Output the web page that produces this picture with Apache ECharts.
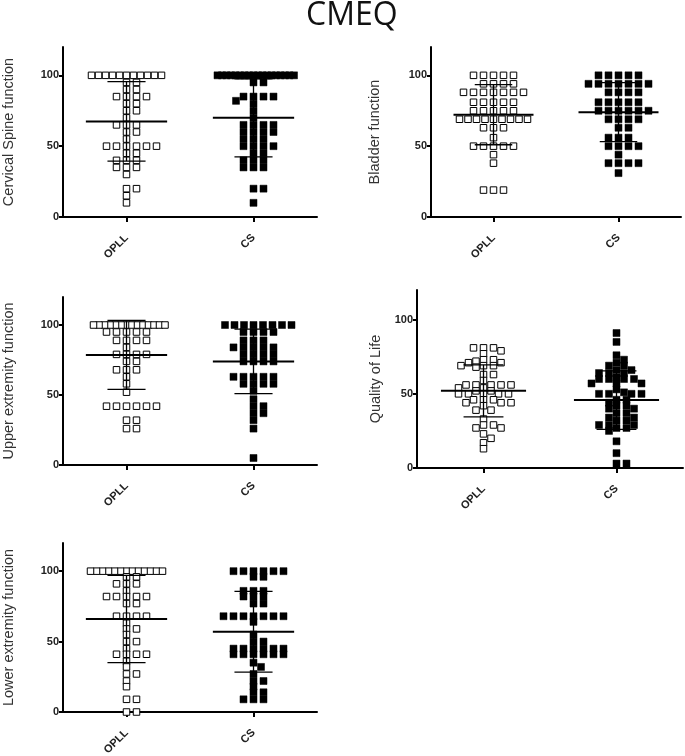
<!DOCTYPE html>
<html>
<head>
<meta charset="utf-8">
<script src="https://cdn.jsdelivr.net/npm/echarts@6/dist/echarts.min.js"></script>
<style>html,body{margin:0;padding:0;background:#fff}#c{width:685px;height:756px}</style>
</head>
<body>
<div id="c"></div>
<script>
const chartTitle = 'CMEQ';
const categories = ['OPLL', 'CS'];
const yTicks = [0, 50, 100];
const panelNames = ['Cervical Spine function', 'Bladder function', 'Upper extremity function', 'Quality of Life', 'Lower extremity function'];

const cervicalOPLL = [100,100,100,100,100,100,100,100,100,100,100,95,95,90,90,85,85,85,85,80,80,75,75,70,65,65,65,60,60,55,50,50,50,50,50,50,45,45,40,40,40,35,35,35,30,20,20,15,10];
const cervicalCS = [100,100,100,100,100,100,100,100,100,100,100,100,100,100,100,100,100,100,95,95,85,85,85,85,82,80,75,70,65,65,65,65,60,60,60,60,55,55,55,50,50,50,50,45,45,40,40,40,35,35,35,20,20,10];
const bladderOPLL = [100,100,100,100,100,94,94,94,94,88,88,88,88,88,88,88,81,81,81,81,81,75,75,75,75,75,69,69,69,69,69,69,69,69,69,63,63,63,56,50,50,50,50,50,44,38,19,19,19];
const bladderCS = [100,100,100,100,100,94,94,94,94,94,94,94,88,88,88,88,81,81,81,81,81,75,75,75,75,75,75,69,69,69,69,63,63,56,56,56,50,50,50,50,44,38,38,38,38,31];
const upperOPLL = [100,100,100,100,100,100,100,100,100,100,100,100,100,100,95,95,95,95,95,89,89,89,89,84,79,79,79,79,74,74,68,68,68,63,58,52,42,42,42,42,42,42,32,32,26,26];
const upperCS = [100,100,100,100,100,100,100,100,95,95,95,95,89,89,89,84,84,84,84,84,79,79,79,79,74,74,74,74,63,63,63,63,63,58,58,58,58,53,47,42,42,37,37,32,26,5];
const qolOPLL = [81,81,81,79,77,73,73,72,71,71,69,69,69,68,63,63,59,56,56,56,56,56,54,54,52,52,50,50,50,50,50,46,46,46,44,44,44,42,39,39,33,29,29,27,27,23,20,17,13];
const qolCS = [91,85,76,73,71,69,69,66,66,64,64,64,61,60,60,60,60,57,57,57,53,51,50,50,50,50,46,46,44,42,42,40,40,37,37,34,34,32,32,29,29,29,27,27,25,18,10,3,3];
const lowerOPLL = [100,100,100,100,100,100,100,100,100,100,100,100,100,96,96,91,91,91,86,82,82,82,82,82,77,77,68,68,68,68,63,59,59,55,50,50,45,41,41,41,41,36,32,27,27,22,18,9,9,0,0];
const lowerCS = [100,100,100,100,100,100,96,96,86,86,86,82,82,82,77,77,68,68,68,68,68,68,68,64,55,50,50,45,45,45,45,45,45,41,41,41,41,41,41,35,32,27,22,22,18,14,14,9,9,9];

// mean and SD
const meansOPLL = [67.5, 72.2, 78.6, 52.0, 66.0];
const sdsOPLL   = [28.0, 21.2, 24.6, 17.5, 31.0];
const meansCS   = [70.0, 74.0, 74.0, 45.8, 57.0];
const sdsCS     = [27.5, 20.8, 23.0, 19.7, 28.7];

const groupsOPLL = [cervicalOPLL, bladderOPLL, upperOPLL, qolOPLL, lowerOPLL];
const groupsCS = [cervicalCS, bladderCS, upperCS, qolCS, lowerCS];

const grids = [
  {left: 63, top: 47, width: 254, height: 170, nameGap: 47},
  {left: 431, top: 47, width: 250, height: 170, nameGap: 49},
  {left: 63, top: 297, width: 254, height: 168, nameGap: 47},
  {left: 417, top: 290, width: 266, height: 178, nameGap: 34},
  {left: 63, top: 543, width: 254, height: 169, nameGap: 47}
];
const YMAX = 120;
const XMAX = 2;

// deterministic beeswarm layout in pixel space
function swarm(values, center, pxX, pxY) {
  const d = 10, dOther = 7.5, cy = 5, rowW = 74;
  const counts = {};
  values.forEach(v => counts[v] = (counts[v] || 0) + 1);
  const sorted = values.slice().sort((a, b) => b - a);
  const placed = [];
  sorted.forEach(v => {
    const sRow = Math.min(d, rowW / counts[v]);
    let off = 0;
    for (let k = 0; k < 400; k++) {
      const cand = [k * 0.5, -k * 0.5];
      let found = null;
      for (const o of cand) {
        let ok = true;
        for (const q of placed) {
          const dx = Math.abs(o - q.off);
          if (q.v === v) { if (dx < sRow - 0.01) { ok = false; break; } }
          else if (Math.abs(v - q.v) * pxY < cy && dx < dOther) { ok = false; break; }
        }
        if (ok) { found = o; break; }
      }
      if (found !== null) { off = found; break; }
    }
    placed.push({v, off});
  });
  return placed.map(p => [center + p.off / pxX, p.v]);
}

const option = {
  animation: false,
  backgroundColor: '#fff',
  title: {text: chartTitle, left: 301, top: 0, padding: [0, 5, 5, 5],
    textStyle: {fontFamily: 'Open Sans', fontSize: 32, fontWeight: 'normal', color: '#111'}},
  grid: [], xAxis: [], yAxis: [], series: []
};

const labelFont = 'Liberation Sans';
grids.forEach((g, i) => {
  option.grid.push({left: g.left, top: g.top, width: g.width, height: g.height, containLabel: false, outerBoundsMode: 'none'});
  option.xAxis.push({
    type: 'value', gridIndex: i, min: 0, max: XMAX,
    axisLine: {show: true, onZero: false, lineStyle: {color: '#000', width: 2}},
    axisTick: {show: true, customValues: [0.5, 1.5], length: 5, lineStyle: {color: '#000', width: 2}},
    axisLabel: {show: true, customValues: [0.5, 1.5], rotate: 45, margin: 19,
      formatter: v => categories[Math.round(v - 0.5)],
      fontFamily: labelFont, fontWeight: 'bold', fontSize: 11, color: '#222'},
    splitLine: {show: false}
  });
  option.yAxis.push({
    type: 'value', gridIndex: i, min: 0, max: YMAX,
    name: panelNames[i], nameLocation: 'middle', nameGap: g.nameGap, nameRotate: 90,
    nameTextStyle: {fontFamily: labelFont, fontSize: 14.5, color: '#333'},
    axisLine: {show: true, lineStyle: {color: '#000', width: 2}},
    axisTick: {show: true, customValues: yTicks, length: 4, lineStyle: {color: '#000', width: 2}},
    axisLabel: {show: true, customValues: yTicks, margin: 4,
      fontFamily: labelFont, fontWeight: 'bold', fontSize: 11, color: '#222'},
    splitLine: {show: false}
  });
  const pxX = g.width / XMAX, pxY = g.height / YMAX;
  option.series.push({
    type: 'scatter', xAxisIndex: i, yAxisIndex: i, symbol: 'rect', symbolSize: 6.5,
    itemStyle: {color: '#fff', borderColor: '#000', borderWidth: 1, opacity: 1},
    data: swarm(groupsOPLL[i], 0.5, pxX, pxY), z: 2
  });
  option.series.push({
    type: 'scatter', xAxisIndex: i, yAxisIndex: i, symbol: 'rect', symbolSize: 7,
    itemStyle: {color: '#000', borderColor: '#000', borderWidth: 0.5, opacity: 1},
    data: swarm(groupsCS[i], 1.5, pxX, pxY), z: 2
  });
  option.series.push({
    type: 'custom', xAxisIndex: i, yAxisIndex: i, z: 5,
    data: [[0.5, meansOPLL[i], sdsOPLL[i]], [1.5, meansCS[i], sdsCS[i]]],
    renderItem: (params, api) => {
      const x = api.value(0), m = api.value(1), s = api.value(2);
      const c = api.coord([x, m]);
      const t = api.coord([x, m + s]);
      const b = api.coord([x, m - s]);
      const hw = api.size([0.32, 0])[0];
      const cw = api.size([0.15, 0])[0];
      const st = {stroke: '#000', lineWidth: 1.3};
      return {type: 'group', children: [
        {type: 'line', shape: {x1: c[0] - hw, y1: c[1], x2: c[0] + hw, y2: c[1]}, style: {stroke: '#000', lineWidth: 2}},
        {type: 'line', shape: {x1: t[0], y1: t[1], x2: b[0], y2: b[1]}, style: st},
        {type: 'line', shape: {x1: t[0] - cw, y1: t[1], x2: t[0] + cw, y2: t[1]}, style: st},
        {type: 'line', shape: {x1: b[0] - cw, y1: b[1], x2: b[0] + cw, y2: b[1]}, style: st}
      ]};
    }
  });
});

const chart = echarts.init(document.getElementById('c'), null, {renderer: 'canvas'});
chart.setOption(option);
</script>
</body>
</html>
